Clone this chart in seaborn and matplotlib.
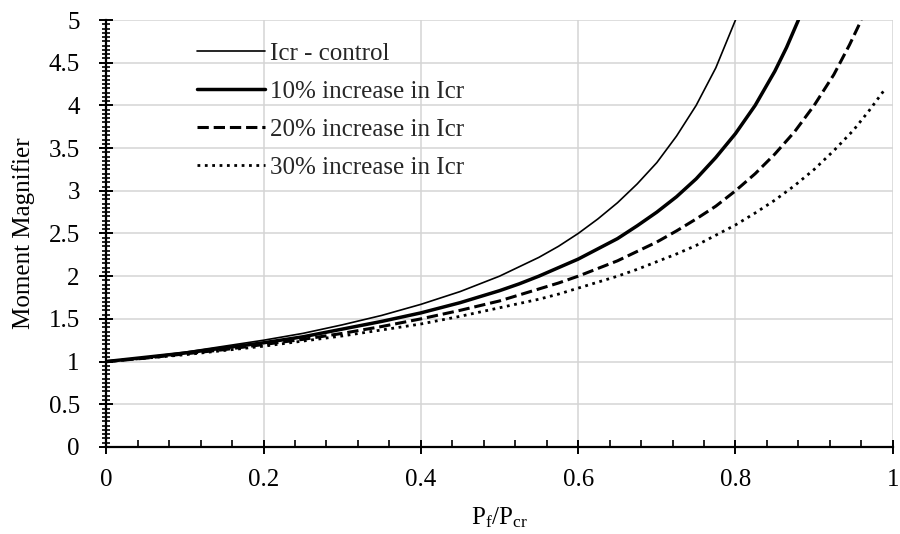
import pandas as pd
import matplotlib.pyplot as plt
import seaborn as sns
from matplotlib.ticker import MultipleLocator

# --- dados ---
x_controle = [0, 0.05, 0.1, 0.15, 0.2, 0.25, 0.3, 0.35, 0.4, 0.45, 0.5, 0.525, 0.55, 0.575, 0.6, 0.625,
              0.65, 0.675, 0.7, 0.725, 0.75, 0.775, 0.8]
y_controle = [1.00, 1.05, 1.11, 1.18, 1.25, 1.33, 1.43, 1.54, 1.67, 1.82, 2.00, 2.11, 2.22, 2.35, 2.50, 2.67,
              2.86, 3.08, 3.33, 3.64, 4.00, 4.44, 5.00]

x_10 = [0, 0.05, 0.1, 0.15, 0.2, 0.25, 0.3, 0.35, 0.4, 0.45, 0.5, 0.525, 0.55, 0.575, 0.6, 0.625, 0.65,
        0.675, 0.7, 0.725, 0.75, 0.775, 0.8, 0.825, 0.85, 0.865, 0.88]
y_10 = [1.00, 1.05, 1.10, 1.16, 1.22, 1.29, 1.38, 1.47, 1.57, 1.69, 1.83, 1.91, 2.00, 2.10, 2.20, 2.32, 2.44,
        2.59, 2.75, 2.93, 3.14, 3.39, 3.67, 4.00, 4.40, 4.68, 5.00]

x_20 = [0, 0.05, 0.1, 0.15, 0.2, 0.25, 0.3, 0.35, 0.4, 0.45, 0.5, 0.525, 0.55, 0.575, 0.6, 0.625, 0.65,
        0.675, 0.7, 0.725, 0.75, 0.775, 0.8, 0.825, 0.85, 0.875, 0.9, 0.925, 0.945, 0.96]
y_20 = [1.00, 1.04, 1.09, 1.14, 1.20, 1.26, 1.33, 1.41, 1.50, 1.60, 1.71, 1.78, 1.85, 1.92, 2.00, 2.09, 2.18,
        2.29, 2.40, 2.53, 2.67, 2.82, 3.00, 3.20, 3.43, 3.69, 4.00, 4.36, 4.71, 5.00]

x_30 = [0, 0.05, 0.1, 0.15, 0.2, 0.25, 0.3, 0.35, 0.4, 0.45, 0.5, 0.525, 0.55, 0.575, 0.6, 0.625, 0.65,
        0.675, 0.7, 0.725, 0.75, 0.775, 0.8, 0.825, 0.85, 0.875, 0.9, 0.925, 0.95, 0.97, 0.99]
y_30 = [1.00, 1.04, 1.08, 1.13, 1.18, 1.24, 1.30, 1.37, 1.44, 1.53, 1.63, 1.68, 1.73, 1.79, 1.86, 1.93, 2.00,
        2.08, 2.17, 2.26, 2.36, 2.48, 2.60, 2.74, 2.89, 3.06, 3.25, 3.47, 3.71, 3.94, 4.19]

rotulos = ['Icr - control', '10% increase in Icr', '20% increase in Icr', '30% increase in Icr']

sns.set_theme(style='white')
plt.rcParams['font.family'] = ['Liberation Serif', 'DejaVu Serif']
plt.rcParams['mathtext.fontset'] = 'custom'
plt.rcParams['mathtext.rm'] = 'Liberation Serif'
plt.rcParams['mathtext.it'] = 'Liberation Serif:italic'

fig = plt.figure(figsize=(9, 5.34), dpi=100)
ax = fig.add_axes([0.118, 0.163, 0.874, 0.7995])

estilos = [('-', 1.2), ('-', 2.5), ('--', 2.2), (':', 2.0)]
series = [(x_controle, y_controle), (x_10, y_10), (x_20, y_20), (x_30, y_30)]

for (xs, ys), rotulo, (ls, lw) in zip(series, rotulos, estilos):
    df = pd.DataFrame({'x': xs, 'y': ys})
    sns.lineplot(data=df, x='x', y='y', ax=ax, color='black', linestyle=ls,
                 linewidth=lw, label=rotulo, sort=False)

ax.set_xlim(0, 1)
ax.set_ylim(0, 5)
ax.xaxis.set_major_locator(MultipleLocator(0.2))
ax.xaxis.set_minor_locator(MultipleLocator(0.04))
ax.yaxis.set_major_locator(MultipleLocator(0.5))
ax.yaxis.set_minor_locator(MultipleLocator(0.05))
ax.xaxis.set_major_formatter(plt.FuncFormatter(lambda v, p: f'{v:g}'))
ax.yaxis.set_major_formatter(plt.FuncFormatter(lambda v, p: f'{v:g}'))

ax.grid(True, which='major', color='#d4d4d4', linewidth=1.1)
for lado in ['top', 'right']:
    ax.spines[lado].set_visible(False)
for lado in ['left', 'bottom']:
    ax.spines[lado].set_color('black')
    ax.spines[lado].set_linewidth(1.6)

ax.tick_params(axis='both', which='major', direction='inout', length=10, width=1.4,
               color='black', labelsize=18, labelcolor='black', left=True, bottom=True)
ax.tick_params(axis='y', which='minor', direction='inout', length=6, width=1.2,
               color='black', left=True)
ax.tick_params(axis='x', which='minor', direction='in', length=5, width=1.2,
               color='black', bottom=True)
ax.tick_params(axis='x', which='major', pad=11)
ax.tick_params(axis='y', which='major', pad=14)

ax.set_xlabel(r'P$_{\mathrm{f}}$/P$_{\mathrm{cr}}$', fontsize=18, color='black')
ax.set_ylabel('Moment Magnifier', fontsize=18, color='black')
ax.xaxis.set_label_coords(0.5, -0.138)
ax.yaxis.set_label_coords(-0.09, 0.5)

ax.legend(loc='center left', bbox_to_anchor=(0.115, 0.787), frameon=False, fontsize=18,
          handlelength=2.75, handletextpad=0.2, labelspacing=0.62, borderpad=0, borderaxespad=0)

plt.savefig('out.png', dpi=100)
plt.close()
